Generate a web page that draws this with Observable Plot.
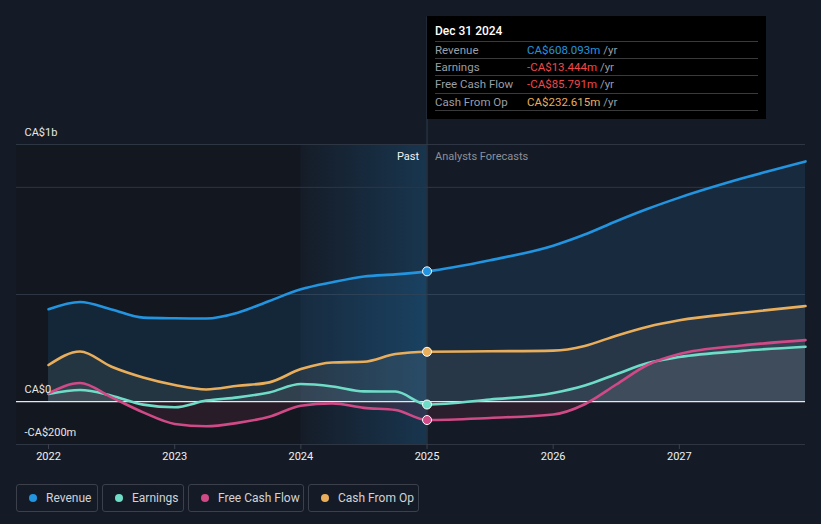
<!DOCTYPE html>
<html><head><meta charset="utf-8">
<script src="https://cdn.jsdelivr.net/npm/d3@7"></script>
<script src="https://cdn.jsdelivr.net/npm/@observablehq/plot@0.6"></script>
<style>
html,body{margin:0;padding:0;background:#151b26;font-family:Roboto,"Noto Sans",sans-serif;}
#wrap{position:relative;width:821px;height:524px;overflow:hidden;background:#151b26}
#tip{position:absolute;top:16px;width:339px;height:103px;background:#000;}
#tip .t{position:absolute;left:8px;top:8px;color:#fff;font-size:12px;font-weight:500}
#tip .ln{position:absolute;left:8px;width:323px;height:1px;background:#3a3a3a}
#tip .r{position:absolute;left:8px;font-size:11.5px;color:#9a9ea6;white-space:nowrap}
#tip .r .v{position:absolute;left:92px}
#tip .r .u{color:#9a9ea6}
#legend{position:absolute;top:484px;left:16px;display:flex;gap:4px}
#legend .b{box-sizing:border-box;height:28px;border:1px solid #3b404b;border-radius:3px;display:flex;align-items:center;padding-left:12px;color:#d0d3d8;font-size:12px}
#legend .d{width:8px;height:8px;border-radius:50%;margin-right:9px}
</style></head><body><div id="wrap"></div>
<script>
// ---- data (CA$ millions) ----
const years = [2022, 2022.25, 2022.5, 2022.75, 2023, 2023.25, 2023.5, 2023.75, 2024, 2024.25, 2024.5, 2024.75, 2025,
               2025.5, 2026, 2026.25, 2026.5, 2026.75, 2027, 2027.5, 2028];
const revenue = [431, 465, 430, 392, 389, 388, 415, 470, 524, 557, 584, 594, 608.093,
                 660, 728, 780, 842, 900, 952, 1042, 1121];
const earnings = [36, 54, 28, -14, -26, 5, 20, 43, 82, 71, 48, 47, -13.444,
                  10, 40, 75, 128, 180, 208, 237, 256];
const freeCashFlow = [39, 87, 20, -50, -104, -115, -99, -70, -19, -8, -29, -39, -85.791,
                      -76, -60, -12, 80, 172, 222, 262, 287];
const cashFromOp = [171, 234, 163, 113, 78, 57, 74, 90, 152, 183, 186, 222, 232.615,
                    235, 238, 260, 308, 350, 380, 415, 446];
const seriesNames = ["Revenue", "Earnings", "Free Cash Flow", "Cash From Op"];
const seriesColors = ["#2394df", "#6fdcc8", "#cf4a86", "#e9ae5c"];
const tipValues = ["CA$608.093m", "-CA$13.444m", "-CA$85.791m", "CA$232.615m"];
const tipValueColors = ["#2394df", "#f04848", "#f04848", "#e9ae5c"];
const xTicks = [2022, 2023, 2024, 2025, 2026, 2027];
const yLabels = [{v: 1200, t: "CA$1b"}, {v: 0, t: "CA$0"}, {v: -200, t: "-CA$200m"}];
const gridValues = [1200, 1000, 500, -200];
const pastStart = 2024, nowX = 2025;
const xDomain = [2021.746, 2028];
const yDomain = [-200, 1200];

const allSeries = [revenue, earnings, freeCashFlow, cashFromOp];
const rows = [];
allSeries.forEach((arr, i) => arr.forEach((v, j) => rows.push({s: seriesNames[i], x: years[j], v})));
const bySeries = n => rows.filter(r => r.s === n);
const nowRows = rows.filter(r => r.x === nowX);
const colorOf = n => seriesColors[seriesNames.indexOf(n)];

const curve = "monotone-x";
const chart = Plot.plot({
  width: 821, height: 470,
  marginLeft: 16, marginRight: 16, marginTop: 144, marginBottom: 26,
  style: {background: "transparent", fontFamily: "Roboto, 'Noto Sans', sans-serif", overflow: "visible"},
  x: {domain: xDomain},
  y: {domain: yDomain},
  marks: [
    Plot.rect([0], {x1: xDomain[0], x2: pastStart, y1: yDomain[0], y2: yDomain[1], fill: "#000", fillOpacity: 0.14}),
    Plot.rect([0], {x1: pastStart, x2: nowX, y1: yDomain[0], y2: yDomain[1], fill: "url(#pastGrad)"}),
    Plot.ruleY(gridValues, {stroke: "#2f3643", strokeWidth: 1}),
    // areas
    Plot.areaY(bySeries("Revenue"), {x: "x", y1: 0, y2: "v", fill: "#2394df", fillOpacity: 0.13, curve}),
    Plot.areaY(bySeries("Cash From Op"), {x: "x", y1: 0, y2: "v", fill: "#b8b0a0", fillOpacity: 0.10, curve}),
    Plot.areaY(bySeries("Earnings"), {x: "x", y1: 0, y2: d => Math.max(0, d.v), fill: "#c8ccd8", fillOpacity: 0.08, curve}),
    Plot.areaY(bySeries("Free Cash Flow"), {x: "x", y1: 0, y2: d => Math.max(0, d.v), fill: "#c8ccd8", fillOpacity: 0.08, curve}),
    Plot.areaY(bySeries("Free Cash Flow"), {x: "x", y1: 0, y2: d => Math.min(0, d.v), fill: "#d0406a", fillOpacity: 0.12, curve}),
    Plot.ruleY([0], {stroke: "#e8e8e8", strokeWidth: 1.2}),
    Plot.ruleX([nowX], {y1: yDomain[0], y2: 1795, stroke: "#2e3b4c", strokeWidth: 1}),
    // lines
    ...seriesNames.map(n => Plot.lineY(bySeries(n), {x: "x", y: "v", stroke: colorOf(n), strokeWidth: 2.6, curve})),
    Plot.dot(nowRows, {x: "x", y: "v", r: 4.5, fill: d => colorOf(d.s), stroke: "#fff", strokeWidth: 1}),
    // labels
    Plot.text(yLabels, {x: xDomain[0], y: "v", text: "t", textAnchor: "start", dx: 8, dy: -12, fill: "#e6e6e6", fontSize: 11}),
    Plot.text(["Past"], {x: nowX, y: yDomain[1], text: d => d, textAnchor: "end", dx: -8, dy: 12, fill: "#f2f2f2", fontSize: 11}),
    Plot.text(["Analysts Forecasts"], {x: nowX, y: yDomain[1], text: d => d, textAnchor: "start", dx: 8, dy: 12, fill: "#8b9099", fontSize: 11}),
    Plot.axisX({ticks: xTicks, tickFormat: d => String(d), tickSize: 5, tickPadding: 3, stroke: "#3b424e", fill: "#f0f0f0", fontSize: 11, label: null}),
    Plot.axisY({ticks: [], label: null})
  ]
});

d3.select(chart).insert("defs", ":first-child").html(
  `<linearGradient id="pastGrad" x1="0" x2="1" y1="0" y2="0">
     <stop offset="0" stop-color="#2394df" stop-opacity="0.01"/>
     <stop offset="1" stop-color="#2394df" stop-opacity="0.22"/>
   </linearGradient>`);

const wrap = document.getElementById("wrap");
chart.style.position = "absolute"; chart.style.left = "0"; chart.style.top = "0";
wrap.appendChild(chart);

// tooltip
const xs = chart.scale("x");
const tip = document.createElement("div");
tip.id = "tip";
tip.style.left = Math.round(xs.apply(nowX)) + "px";
let html = `<div class="t">Dec 31 2024</div>`;
const lineTops = [25, 42, 59, 77, 94];
lineTops.forEach(t => html += `<div class="ln" style="top:${t}px"></div>`);
seriesNames.forEach((n, i) => {
  html += `<div class="r" style="top:${lineTops[i] + 2}px">${n}<span class="v"><span style="color:${tipValueColors[i]}">${tipValues[i]}</span> <span class="u">/yr</span></span></div>`;
});
tip.innerHTML = html;
wrap.appendChild(tip);

// legend
const lg = document.createElement("div");
lg.id = "legend";
const widths = [82, 82, 116, 111];
seriesNames.forEach((n, i) => {
  const b = document.createElement("div");
  b.className = "b"; b.style.width = widths[i] + "px";
  b.innerHTML = `<span class="d" style="background:${seriesColors[i]}"></span>${n}`;
  lg.appendChild(b);
});
wrap.appendChild(lg);
</script></body></html>
